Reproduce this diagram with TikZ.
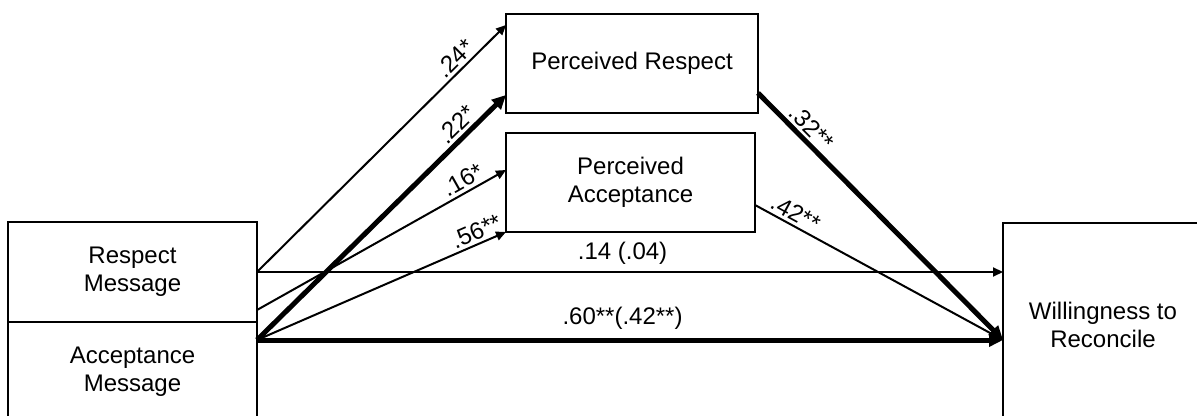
\documentclass[tikz,border=0pt]{standalone}
\usepackage{fontspec}
\setmainfont{Liberation Sans}
\usetikzlibrary{arrows.meta}

\begin{document}
\begin{tikzpicture}[x=0.5pt, y=-0.5pt, node distance={50pt},
    box/.style = {draw, line width=1pt, inner sep=0pt, outer sep=0pt, align=center, font=\fontsize{12}{13.8}\selectfont},
    lab/.style = {font=\fontsize{12}{14}\selectfont, inner sep=1.5pt, sloped, above},
    weak/.style = {line width=1pt, -{Triangle[length=5pt, width=4.5pt]}},
    strong/.style = {line width=2.5pt, -{Triangle[length=7pt, width=6.5pt]}}]
    \useasboundingbox (0,0) rectangle (1197,416);
    \clip (0,0) rectangle (1197,416);
    \node[box, minimum width=124.5pt, minimum height=50pt] (rm) at (132.5,272) {Respect\\Message};
    \node[box, minimum width=124.5pt, minimum height=50pt] (am) [below of=rm] {Acceptance\\Message};
    \node[box, minimum width=126pt, minimum height=49.5pt] (pr) at (632,63.5) {Perceived Respect};
    \node[box, minimum width=124.5pt, minimum height=49.5pt] (pa) at (630.5,182.5) {Perceived\\Acceptance};
    \node[box, minimum width=100pt, minimum height=102pt] (w) at (1103,325) {Willingness to\\Reconcile};
    \draw[weak] (rm.east) to node[lab, pos=0.83] {.24*} ([yshift=-5.5pt]pr.north west);
    \draw[strong] ([yshift=-9pt]am.north east) to node[lab, pos=0.84] {.22*} ([yshift=9pt]pr.south west);
    \draw[weak] ([yshift=6pt]rm.south east) to node[lab, pos=0.85] {.16*} ([yshift=-18.5pt]pa.north west);
    \draw[weak] ([yshift=-9pt]am.north east) to node[lab, pos=0.9] {.56**} (pa.south west);
    \draw[weak] (rm.east) to node[lab, pos=0.49, above=2pt] {.14 (.04)} ([yshift=26.5pt]w.west);
    \draw[strong] ([yshift=-9pt]am.north east) to node[lab, pos=0.49, above=2.5pt] {.60**(.42**)} ([yshift=-7.5pt]w.west);
    \draw[strong] ([yshift=10pt]pr.south east) to node[lab, pos=0.18] {.32**} ([yshift=-7.5pt]w.west);
    \draw[weak] ([yshift=13.5pt]pa.south east) to node[lab, pos=0.14] {.42**} ([yshift=-7.5pt]w.west);
  \end{tikzpicture}
\end{document}
